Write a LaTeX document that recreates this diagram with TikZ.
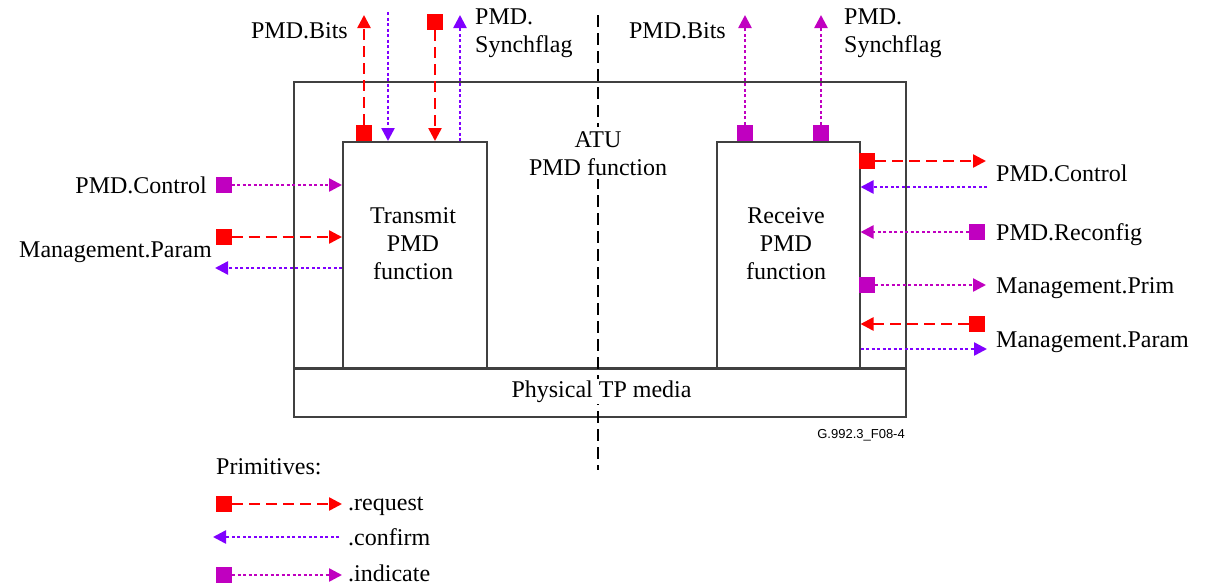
\documentclass[tikz,border=0pt]{standalone}
\usepackage{fontspec}
\setmainfont{Liberation Serif}
\newfontfamily\sansf{Liberation Sans}
\usetikzlibrary{arrows.meta}
\definecolor{reqc}{RGB}{255,0,0}
\definecolor{confc}{RGB}{128,0,255}
\definecolor{indc}{RGB}{192,0,192}
\definecolor{boxc}{RGB}{64,64,64}
\tikzset{
  tipstyle/.style={-{Triangle[length=13pt,width=13pt]}},
  reqline/.style={draw=reqc, color=reqc, line width=2.5pt, dash pattern=on 11pt off 6pt, tipstyle},
  confline/.style={draw=confc, color=confc, line width=2.5pt, dash pattern=on 3pt off 2.5pt, tipstyle},
  indline/.style={draw=indc, color=indc, line width=2.5pt, dash pattern=on 3pt off 2.5pt, tipstyle},
  sq/.style={rectangle, minimum size=16pt, inner sep=0pt, draw=none},
  reqsq/.style={sq, fill=reqc},
  indsq/.style={sq, fill=indc},
  lbl/.style={font=\fontsize{24}{28}\selectfont, inner sep=0pt},
  blk/.style={draw=boxc, line width=1.5pt, inner sep=0pt, anchor=north west},
}
\begin{document}
\begin{tikzpicture}[x=1pt, y=-1pt]
\useasboundingbox (0,0) rectangle (1205,584);

% boxes
\node[blk, minimum width=612pt, minimum height=335pt] (outer) at (293,81) {};
\node[blk, minimum width=144pt, minimum height=227pt] (tx) at (342,141) {};
\node[blk, minimum width=143pt, minimum height=227pt] (rx) at (716,141) {};
\coordinate (mL) at (293,368);
\coordinate (mR) at (905,368);
\draw[boxc, line width=3pt] (mL) -- (mR);

% center dashed line
\coordinate (cTop) at (598,15);
\coordinate (cBot) at (598,470);
\draw[black, line width=2.5pt, dash pattern=on 12pt off 6pt] (cTop) -- (cBot);

% box texts (base anchor = baseline of last line)
\node[lbl, fill=white, inner sep=4pt, align=center, anchor=base] (atu) at (598,175) {ATU\\PMD function};
\node[lbl, align=center, anchor=base] (txt) at (413,279) {Transmit\\PMD\\function};
\node[lbl, align=center, anchor=base] (rxt) at (786,279) {Receive\\PMD\\function};
\node[lbl, fill=white, inner sep=1.5pt, anchor=base] (phy) at (601.5,397) {Physical TP media};
\node[font=\sansf\fontsize{13}{15}\selectfont, inner sep=0pt, anchor=base east] (fig) at (905,438) {G.992.3\_F08-4};

% ---- top left (transmit) ----
\node[reqsq] (s1) at (364,133) {};
\coordinate (t1) at (364,15);
\draw[reqline] (s1.north) -- (t1);

\coordinate (c2) at (388,12);
\draw[confline] (c2) -- (tx.north -| c2);

\node[reqsq] (s3) at (435,22) {};
\draw[reqline] (s3.south) -- (tx.north -| s3);

\coordinate (t4) at (460,15);
\draw[confline] (tx.north -| t4) -- (t4);

\node[lbl, anchor=base east] (lb1) at (348,38) {PMD.Bits};
\node[lbl, anchor=base west, align=left] (lb2) at (475,52) {PMD.\\Synchflag};

% ---- top right (receive) ----
\node[indsq] (s5) at (745,133) {};
\coordinate (t5) at (745,15);
\draw[indline] (s5.north) -- (t5);
\node[indsq] (s6) at (821,133) {};
\coordinate (t6) at (821,15);
\draw[indline] (s6.north) -- (t6);
\node[lbl, anchor=base east] (lb3) at (726,38) {PMD.Bits};
\node[lbl, anchor=base west, align=left] (lb4) at (844,52) {PMD.\\Synchflag};

% ---- left side ----
\node[indsq] (s7) at (223.5,185) {};
\draw[indline] (s7.east) -- (tx.west |- s7);
\node[reqsq] (s8) at (223.5,237) {};
\draw[reqline] (s8.east) -- (tx.west |- s8);
\coordinate (t9) at (215,268);
\draw[confline] (tx.west |- t9) -- (t9);
\node[lbl, anchor=base east] (lb5) at (207,193) {PMD.Control};
\node[lbl, anchor=base east] (lb6) at (212,257) {Management.Param};

% ---- right side ----
\node[reqsq] (s10) at (867,161) {};
\coordinate (t10) at (986,161);
\draw[reqline] (s10.east) -- (t10);
\coordinate (c11) at (987,187);
\draw[confline] (c11) -- (rx.east |- c11);
\node[indsq] (s12) at (977,232) {};
\draw[indline] (s12.west) -- (rx.east |- s12);
\node[indsq] (s13) at (867,285) {};
\coordinate (t13) at (986,285);
\draw[indline] (s13.east) -- (t13);
\node[reqsq] (s14) at (977,324) {};
\draw[reqline] (s14.west) -- (rx.east |- s14);
\coordinate (t15) at (987,349);
\draw[confline] (rx.east |- t15) -- (t15);
\node[lbl, anchor=base west] (lb7) at (996,181) {PMD.Control};
\node[lbl, anchor=base west] (lb8) at (996,240) {PMD.Reconfig};
\node[lbl, anchor=base west] (lb9) at (996,293) {Management.Prim};
\node[lbl, anchor=base west] (lb10) at (996,347) {Management.Param};

% ---- legend ----
\node[lbl, anchor=base west] (prim) at (216,474) {Primitives:};
\node[reqsq] (l1) at (224,504) {};
\coordinate (lt1) at (342,504);
\draw[reqline] (l1.east) -- (lt1);
\node[lbl, anchor=base west] (lr) at (348,510) {.request};
\coordinate (lc2) at (339,537);
\coordinate (lt2) at (213,537);
\draw[confline] (lc2) -- (lt2);
\node[lbl, anchor=base west] (lc) at (348,545) {.confirm};
\node[indsq] (l3) at (224,575) {};
\coordinate (lt3) at (342,575);
\draw[indline] (l3.east) -- (lt3);
\node[lbl, anchor=base west] (li) at (348,581) {.indicate};
\end{tikzpicture}
\end{document}
